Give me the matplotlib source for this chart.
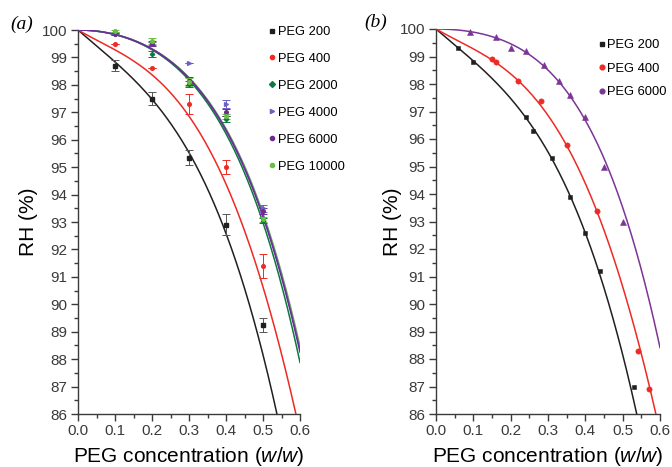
import numpy as np
import matplotlib
matplotlib.use('Agg')
import matplotlib.pyplot as plt
from matplotlib.lines import Line2D
from matplotlib.ticker import MultipleLocator

plt.rcParams['font.family'] = ['Liberation Sans', 'DejaVu Sans']
plt.rcParams['mathtext.fontset'] = 'custom'
plt.rcParams['mathtext.it'] = 'Liberation Sans:italic'
plt.rcParams['mathtext.rm'] = 'Liberation Sans'

# ---------------- data: panel (a) ----------------
xa = [0.1, 0.2, 0.3, 0.4, 0.5]
a_peg200 = [98.7, 97.5, 95.35, 92.9, 89.25]
a_peg200_err = [0.2, 0.25, 0.28, 0.38, 0.25]
a_peg400 = [99.5, 98.6, 97.3, 95.0, 91.4]
a_peg400_err = [0.0, 0.0, 0.38, 0.26, 0.43]
a_peg2000 = [99.85, 99.12, 98.03, 96.75, 93.05]
a_peg2000_err = [0.04, 0.1, 0.12, 0.1, 0.1]
a_peg4000 = [99.9, 99.5, 98.8, 97.3, 93.5]
a_peg4000_err = [0.03, 0.06, 0.0, 0.15, 0.12]
a_peg6000 = [99.85, 99.5, 98.15, 97.0, 93.4]
a_peg6000_err = [0.04, 0.1, 0.15, 0.12, 0.1]
a_peg10000 = [99.95, 99.6, 98.1, 96.85, 93.1]
a_peg10000_err = [0.04, 0.12, 0.15, 0.1, 0.1]

# ---------------- data: panel (b) ----------------
b_peg200_x = [0.06, 0.10, 0.24, 0.26, 0.31, 0.36, 0.40, 0.44, 0.53]
b_peg200 = [99.3, 98.8, 96.8, 96.3, 95.3, 93.9, 92.6, 91.2, 87.0]
b_peg400_x = [0.15, 0.16, 0.22, 0.28, 0.35, 0.43, 0.54, 0.57]
b_peg400 = [98.9, 98.8, 98.1, 97.4, 95.8, 93.4, 88.3, 86.9]
b_peg6000_x = [0.09, 0.16, 0.20, 0.24, 0.29, 0.33, 0.36, 0.40, 0.45, 0.50]
b_peg6000 = [99.9, 99.7, 99.3, 99.2, 98.7, 98.1, 97.6, 96.8, 95.0, 93.0]

# ---------------- fitted model coefficients: RH = 100 - sum(c_i * x**p_i) ----------------
fit_pow_low = [1, 2, 3, 4]
fit_peg200 = [11.7340, -6.3873, 50.3089, 20.5372]
fit_peg400 = [7.7777, -13.4277, 80.7118, -20.0531]
fit_pow_high = [2, 3, 4]
fit_high_a = [16.1925, -4.6930, 53.1817]
fit_scale_a = {'PEG 2000': 1.035, 'PEG 4000': 0.995, 'PEG 6000': 1.003, 'PEG 10000': 0.985}
fit_peg6000_b = [10.2463, 5.7009, 51.4406]

# colours
C_BLACK = '#231f20'
C_RED = '#ee2a24'
C_DGREEN = '#0b7a3e'
C_SLATE = '#6d5fc4'
C_PURPLE = '#6c2d8f'
C_LGREEN = '#6cbd45'
C_PURPLE_B = '#7b3596'
C_TICK = '#3a3a3a'


def model(x, coefs, powers):
    x = np.asarray(x)
    return 100 - sum(c * x ** p for c, p in zip(coefs, powers))


fig = plt.figure(figsize=(6.72, 4.67), dpi=100)
axA = fig.add_axes([78/672, 1-414/467, 222/672, 384/467])
axB = fig.add_axes([436/672, 1-414/467, 224/672, 385/467])

xs = np.linspace(0, 0.6, 400)

# ---- panel (a) ----
series_a = [
    ('PEG 200', a_peg200, a_peg200_err, C_BLACK, 's', 2.4),
    ('PEG 400', a_peg400, a_peg400_err, C_RED, 'o', 2.6),
    ('PEG 2000', a_peg2000, a_peg2000_err, C_DGREEN, 'D', 2.2),
    ('PEG 4000', a_peg4000, a_peg4000_err, C_SLATE, '>', 2.8),
    ('PEG 6000', a_peg6000, a_peg6000_err, C_PURPLE, 'o', 2.6),
    ('PEG 10000', a_peg10000, a_peg10000_err, C_LGREEN, 'o', 2.6),
]

axA.plot(xs, model(xs, fit_peg200, fit_pow_low), color=C_BLACK, lw=1.1, zorder=3)
axA.plot(xs, model(xs, fit_peg400, fit_pow_low), color=C_RED, lw=1.1, zorder=3)
for name, col in [('PEG 2000', C_DGREEN), ('PEG 10000', C_LGREEN),
                  ('PEG 4000', C_SLATE), ('PEG 6000', C_PURPLE)]:
    coefs = [c * fit_scale_a[name] for c in fit_high_a]
    axA.plot(xs, model(xs, coefs, fit_pow_high), color=col, lw=1.1, zorder=3)

handles_a = []
for name, y, e, col, mk, ms in series_a:
    ecol = '#555555' if col == C_BLACK else col
    axA.errorbar(xa, y, yerr=e, fmt=mk, color=col, ms=ms, ecolor=ecol,
                 elinewidth=0.7, capsize=3.2, capthick=0.7, zorder=4, clip_on=False)
    handles_a.append(Line2D([], [], ls='none', marker=mk, color=col, ms=3.0, label=name))

# ---- panel (b) ----
axB.plot(xs, model(xs, fit_peg200, fit_pow_low), color=C_BLACK, lw=1.1, zorder=3)
axB.plot(xs, model(xs, fit_peg400, fit_pow_low), color=C_RED, lw=1.1, zorder=3)
axB.plot(xs, model(xs, fit_peg6000_b, fit_pow_high), color=C_PURPLE_B, lw=1.1, zorder=3)
axB.plot(b_peg200_x, b_peg200, 's', color=C_BLACK, ms=3.4, mew=0.4, ls='none', zorder=4)
axB.plot(b_peg400_x, b_peg400, 'o', color=C_RED, ms=3.8, mew=0.4, ls='none', zorder=4)
axB.plot(b_peg6000_x, b_peg6000, '^', color=C_PURPLE_B, ms=4.2, mew=0.4, ls='none', zorder=4)
handles_b = [
    Line2D([], [], ls='none', marker='s', color=C_BLACK, ms=3.0, label='PEG 200'),
    Line2D([], [], ls='none', marker='o', color=C_RED, ms=3.4, label='PEG 400'),
    Line2D([], [], ls='none', marker='o', color=C_PURPLE_B, ms=3.4, label='PEG 6000'),
]

for ax in (axA, axB):
    ax.set_xlim(0, 0.6)
    ax.set_ylim(86, 100)
    ax.spines['top'].set_visible(False)
    ax.spines['right'].set_visible(False)
    for s in ('left', 'bottom'):
        ax.spines[s].set_color(C_TICK)
        ax.spines[s].set_linewidth(1.0)
    ax.xaxis.set_major_locator(MultipleLocator(0.1))
    ax.xaxis.set_minor_locator(MultipleLocator(0.05))
    ax.yaxis.set_major_locator(MultipleLocator(1))
    ax.yaxis.set_minor_locator(MultipleLocator(0.5))
    ax.xaxis.set_major_formatter(matplotlib.ticker.FormatStrFormatter('%.1f'))
    ax.tick_params(which='major', direction='out', length=5, width=1.0,
                   color=C_TICK, labelcolor=C_TICK, labelsize=11, pad=2.5)
    ax.tick_params(which='minor', direction='out', length=3, width=1.0, color=C_TICK)
    ax.set_xlabel('PEG concentration ($\\mathit{w/w}$)', fontsize=15, color='black')
    ax.set_ylabel('RH (%)', fontsize=15, color='black')
    ax.xaxis.set_label_coords(0.5, -0.08)

axA.yaxis.set_label_coords(-0.18, 0.5)
axB.yaxis.set_label_coords(-0.15, 0.5)

legA = fig.legend(handles=handles_a, loc='upper left', bbox_to_anchor=(268/672, 1-26/467),
                  frameon=False, fontsize=9.3, handlelength=0.6, handletextpad=0.2,
                  borderpad=0, borderaxespad=0, labelspacing=1.15)
legB = fig.legend(handles=handles_b, loc='upper left', bbox_to_anchor=(598/672, 1-39/467),
                  frameon=False, fontsize=9.3, handlelength=0.6, handletextpad=0.1,
                  borderpad=0, borderaxespad=0, labelspacing=0.9)

fig.text(22/672, 1-24/467, '(a)', fontsize=14, family='Liberation Serif', style='italic',
         ha='center', va='center')
fig.text(376/672, 1-22/467, '(b)', fontsize=14, family='Liberation Serif', style='italic',
         ha='center', va='center')

fig.savefig('out.png', dpi=100)
